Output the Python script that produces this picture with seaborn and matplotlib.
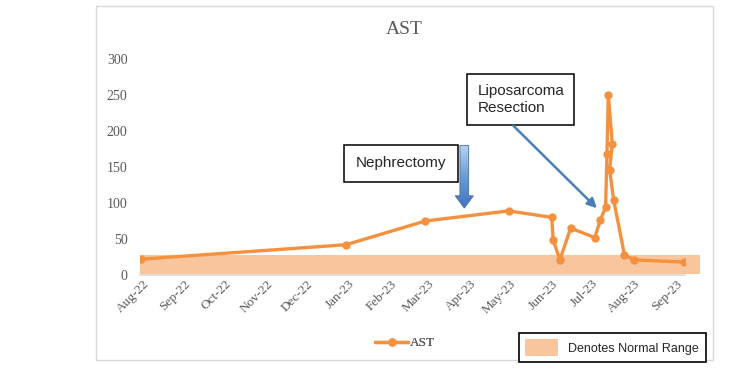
import pandas as pd
import numpy as np
import matplotlib
matplotlib.use('Agg')
import matplotlib.pyplot as plt
import matplotlib.dates as mdates
from matplotlib.patches import Patch, Rectangle, FancyArrow
from matplotlib.colors import LinearSegmentedColormap
import seaborn as sns

# AST values
dates = ['2022-07-31', '2022-12-30', '2023-02-27', '2023-04-30', '2023-06-01',
         '2023-06-02', '2023-06-07', '2023-06-15', '2023-07-03', '2023-07-07',
         '2023-07-11', '2023-07-12', '2023-07-13', '2023-07-16', '2023-07-14',
         '2023-07-17', '2023-07-25', '2023-08-01', '2023-09-07']
ast = [22, 42, 75, 89, 80, 49, 21, 65, 52, 76, 94, 168, 250, 182, 146, 104, 28, 21, 18]

normal_low, normal_high = 2, 28
band_start, band_end = '2022-07-30', '2023-09-19'
x_start, x_end = '2022-07-30', '2023-09-08'

neph_date = '2023-03-28'
neph_top, neph_tip = 180, 93
neph_label_pos = ('2023-02-09', 155)
lipo_label_pos = ('2023-05-09', 244)
lipo_arrow_from = ('2023-05-02', 210)
lipo_arrow_to = ('2023-07-06', 90)

orange = '#F4913F'
band_col = '#F9C59C'
grey = '#595959'

sns.set_style('white')
plt.rcParams['font.family'] = ['Liberation Serif', 'DejaVu Serif']

df = pd.DataFrame({'date': pd.to_datetime(dates), 'AST': ast})

fig = plt.figure(figsize=(7.5, 3.72), dpi=100)
ax = fig.add_axes([140 / 750, 1 - 275 / 372, 545 / 750, 216 / 372])

# normal range band
bx = pd.to_datetime([band_start, band_end])
ax.fill_between(bx, normal_low, normal_high, color=band_col, lw=0, zorder=1, clip_on=False)

sns.lineplot(data=df, x='date', y='AST', sort=False, marker='o', color=orange,
             linewidth=2.4, markersize=6, markeredgewidth=0, ax=ax, label='AST', zorder=3)

ax.set_xlim(pd.Timestamp(x_start), pd.Timestamp(x_end))
ax.set_ylim(0, 300)
ax.set_yticks(range(0, 301, 50))
ax.xaxis.set_major_locator(mdates.MonthLocator())
ax.xaxis.set_major_formatter(mdates.DateFormatter('%b-%y'))
ax.set_xlabel('')
ax.set_ylabel('')
for s in ['top', 'right', 'left']:
    ax.spines[s].set_visible(False)
ax.spines['bottom'].set_color('#D9D9D9')
ax.spines['bottom'].set_linewidth(1.2)
ax.tick_params(axis='y', length=0, pad=9, labelsize=10, labelcolor=grey)
ax.tick_params(axis='x', length=0, pad=2, labelsize=9.5, labelcolor=grey)
for lab in ax.get_xticklabels():
    lab.set_rotation(45)
    lab.set_ha('right')
    lab.set_rotation_mode('anchor')

fig.text(0.539, 1 - 30 / 372, 'AST', ha='center', va='center', fontsize=14, color=grey)

# nephrectomy block arrow with gradient
nx = mdates.date2num(pd.Timestamp(neph_date))
arrow = FancyArrow(nx, neph_top, 0, neph_tip - neph_top, width=6.5, head_width=13.5,
                   head_length=17, length_includes_head=True, facecolor='none',
                   edgecolor='#41719C', lw=0.6, zorder=5)
ax.add_patch(arrow)
cmap = LinearSegmentedColormap.from_list('blu', ['#B7D1EF', '#6C9BD6', '#4472C4'])
grad = np.linspace(0, 1, 100).reshape(-1, 1)
im = ax.imshow(grad, cmap=cmap, aspect='auto', zorder=4,
               extent=[nx - 7, nx + 7, neph_tip, neph_top], origin='upper')
im.set_clip_path(arrow)

ax.text(mdates.date2num(pd.Timestamp(neph_label_pos[0])), neph_label_pos[1], 'Nephrectomy',
        ha='center', va='center', fontsize=11, family=['Liberation Sans'], zorder=6,
        bbox=dict(boxstyle='square,pad=0.75', fc='white', ec='black', lw=1.1))

ax.text(mdates.date2num(pd.Timestamp(lipo_label_pos[0])), lipo_label_pos[1],
        'Liposarcoma\nResection', ha='center', va='center', fontsize=11,
        family=['Liberation Sans'], linespacing=1.3, zorder=6, multialignment='left',
        bbox=dict(boxstyle='square,pad=0.65', fc='white', ec='black', lw=1.1))
ax.annotate('', xy=(mdates.date2num(pd.Timestamp(lipo_arrow_to[0])), lipo_arrow_to[1]),
            xytext=(mdates.date2num(pd.Timestamp(lipo_arrow_from[0])), lipo_arrow_from[1]),
            arrowprops=dict(arrowstyle='-|>', color='#4A7EBB', lw=1.8, mutation_scale=14),
            zorder=6)

# legends
h, l = ax.get_legend_handles_labels()
leg1 = ax.legend(h, l, loc='center', bbox_to_anchor=(405 / 750, 1 - 343 / 372),
                 bbox_transform=fig.transFigure, frameon=False, fontsize=9.5,
                 handlelength=2.5, handletextpad=0.15)
for t in leg1.get_texts():
    t.set_color(grey)
ax.add_artist(leg1)

leg2 = fig.legend([Patch(facecolor=band_col, edgecolor='none')], ['Denotes Normal Range'],
                  loc='center', bbox_to_anchor=(612 / 750, 1 - 347.5 / 372),
                  prop={'family': 'Liberation Sans', 'size': 9},
                  handlelength=2.6, handleheight=1.6, handletextpad=0.8,
                  borderpad=0.55, fancybox=False, framealpha=1, edgecolor='black')
leg2.get_frame().set_linewidth(1.2)

fig.patches.append(Rectangle((96 / 750, 1 - 360 / 372), 617 / 750, 354 / 372,
                             transform=fig.transFigure, fill=False, ec='#D9D9D9', lw=1))

fig.savefig('out.png', dpi=100)
